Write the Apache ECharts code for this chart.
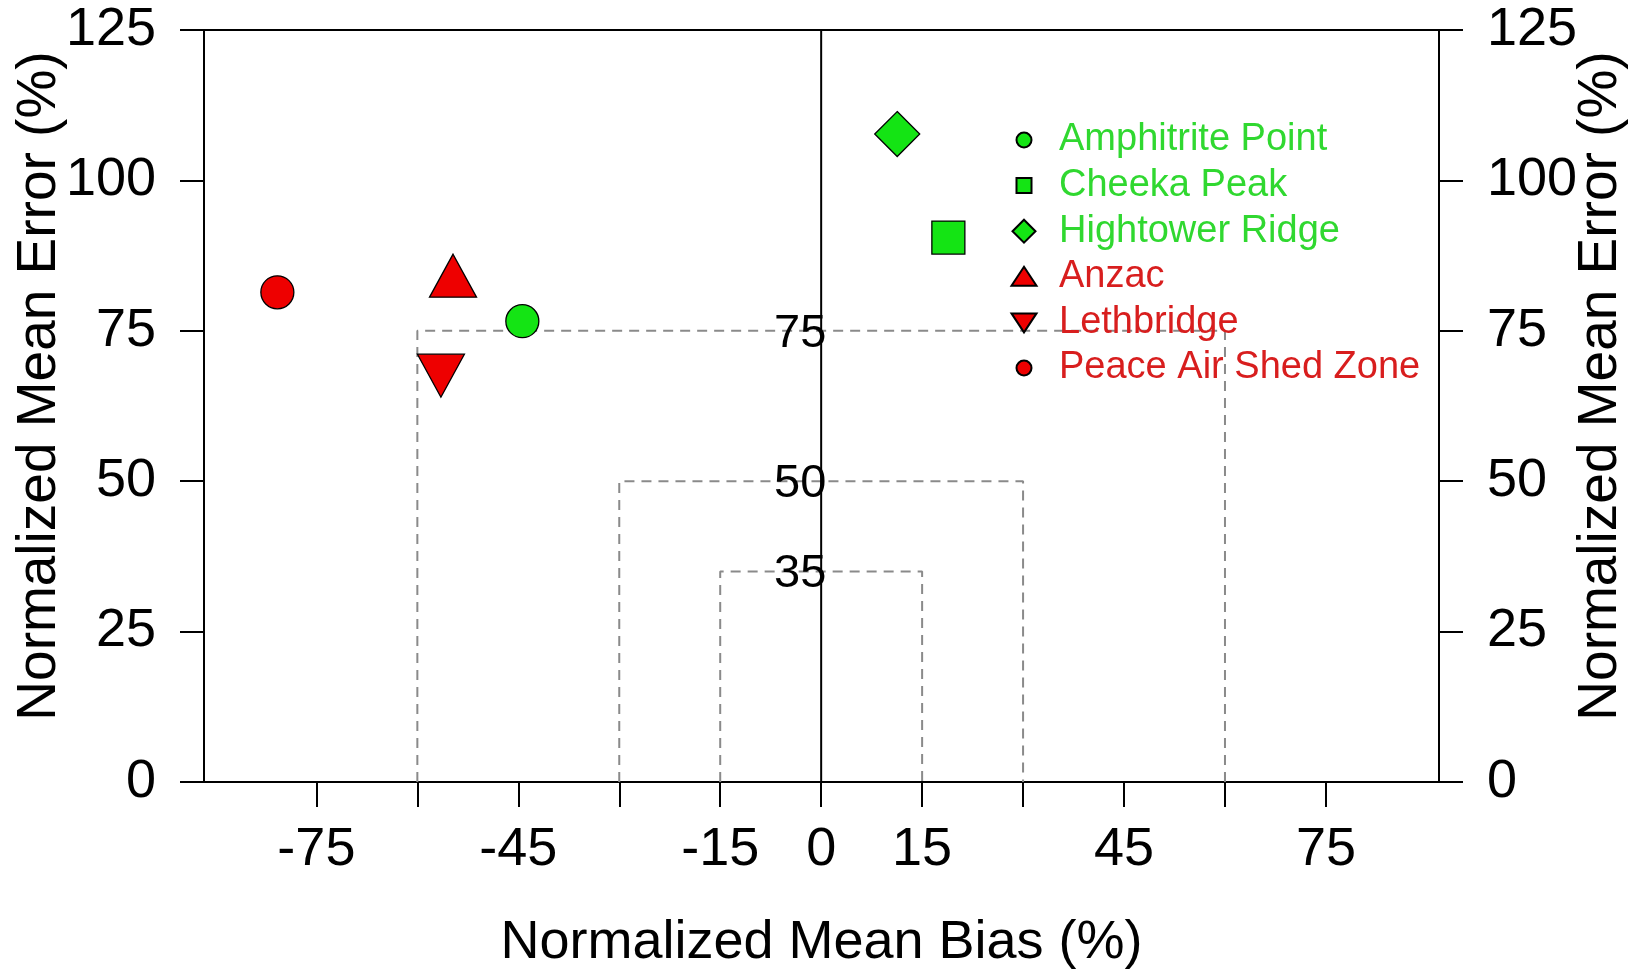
<!DOCTYPE html>
<html>
<head>
<meta charset="utf-8">
<title>Normalized Mean Bias vs Normalized Mean Error</title>
<script src="https://cdn.jsdelivr.net/npm/echarts@6/dist/echarts.min.js"></script>
<style>
html, body { margin: 0; padding: 0; background: #fff; }
#chart { width: 1633px; height: 970px; }
</style>
</head>
<body>
<div id="chart"></div>
<script>
// sites and their scores
var sites = ['Amphitrite Point', 'Cheeka Peak', 'Hightower Ridge', 'Anzac', 'Lethbridge', 'Peace Air Shed Zone'];
var nmb = [-44.4, 18.9, 11.3, -54.7, -56.5, -80.8];
var nme = [76.6, 90.5, 107.7, 83.0, 68.7, 81.4];
var siteGroup = ['coast', 'coast', 'coast', 'inland', 'inland', 'inland'];

// goal / criteria boxes
var thresholds = [75, 50, 35];
var thresholdHalfWidth = [60, 30, 15];

// axis ticks
var xTicks = [-75, -60, -45, -30, -15, 0, 15, 30, 45, 60, 75];
var xLabels = [-75, -45, -15, 0, 15, 45, 75];

var FONT = '"Liberation Sans", Arial, sans-serif';
var groupColor = { coast: '#14e414', inland: '#ee0000' };
var groupText = { coast: '#30d830', inland: '#d81e1e' };

// marker shapes (chart) and legend icons (small, padded inside a 26x26 box)
var markerSymbol = ['circle', 'rect', 'diamond', 'triangle', 'path://M-1,-1L1,-1L0,1Z', 'circle'];
var markerSize = [33, 33, 45, [47, 43], [47, 43], 33];
var markerOffset = [[0, 0], [0, 0], [0, 0], [0, -7], [0, 7], [0, 0]];
var legendIcon = [
	'path://M-13,-13M13,13M7.5,0A7.5,7.5,0,1,1,-7.5,0A7.5,7.5,0,1,1,7.5,0Z',
	'path://M-13,-13M13,13M-7.5,-7.5L7.5,-7.5L7.5,7.5L-7.5,7.5Z',
	'path://M-13,-13M13,13M0,-11.5L11.5,0L0,11.5L-11.5,0Z',
	'path://M-13,-13M13,13M0,-10L12.5,9L-12.5,9Z',
	'path://M-13,-13M13,13M-12.5,-9L12.5,-9L0,10Z',
	'path://M-13,-13M13,13M7.5,0A7.5,7.5,0,1,1,-7.5,0A7.5,7.5,0,1,1,7.5,0Z'
];

var myChart = echarts.init(document.getElementById('chart'));

var series = [];

// dashed criteria boxes
for (var i = 0; i < thresholds.length; i++) {
	var h = thresholdHalfWidth[i];
	var t = thresholds[i];
	series.push({
		name: 'box' + t,
		type: 'line',
		silent: true,
		symbol: 'none',
		z: 1,
		lineStyle: { color: '#8a8a8a', width: 2, type: [10, 7] },
		data: [[-h, 0], [-h, t], [h, t], [h, 0]]
	});
}

// zero bias line
series.push({
	name: 'zero',
	type: 'line',
	silent: true,
	symbol: 'none',
	z: 1,
	lineStyle: { color: '#000', width: 2 },
	data: [[0, 0], [0, 125]]
});

// box labels
series.push({
	name: 'boxLabels',
	type: 'scatter',
	silent: true,
	symbolSize: 0,
	z: 2,
	itemStyle: { color: 'rgba(0,0,0,0)', opacity: 1 },
	label: {
		show: true,
		position: 'inside',
		offset: [-21, 3],
		color: '#000',
		fontSize: 47,
		fontFamily: FONT,
		formatter: function (p) { return p.value[1]; }
	},
	data: thresholds.map(function (t) { return [0, t]; })
});

// one scatter series per site
var legendData = [];
for (var k = 0; k < sites.length; k++) {
	series.push({
		name: sites[k],
		type: 'scatter',
		z: 5,
		symbol: markerSymbol[k],
		symbolSize: markerSize[k],
		symbolOffset: markerOffset[k],
		itemStyle: {
			color: groupColor[siteGroup[k]],
			borderColor: '#000',
			borderWidth: 1.3,
			opacity: 1
		},
		data: [[nmb[k], nme[k]]]
	});
	legendData.push({
		name: sites[k],
		icon: legendIcon[k],
		textStyle: { color: groupText[siteGroup[k]] }
	});
}

var yAxisCommon = {
	type: 'value',
	min: 0,
	max: 125,
	interval: 25,
	name: 'Normalized Mean Error (%)',
	nameLocation: 'middle',
	nameRotate: 90,
	nameMoveOverlap: false,
	nameTextStyle: { color: '#000', fontSize: 55, fontFamily: FONT, padding: [0, 0, 0, 40] },
	splitLine: { show: false },
	axisLine: { show: true, onZero: false, lineStyle: { color: '#000', width: 2 } },
	axisTick: { show: true, length: 24, lineStyle: { color: '#000', width: 2 } },
	axisLabel: { color: '#000', fontSize: 54, fontFamily: FONT, margin: 48 }
};

var option = {
	backgroundColor: '#fff',
	animation: false,
	grid: {
		left: 204,
		top: 30,
		width: 1235,
		height: 752,
		containLabel: false,
		outerBoundsMode: 'none',
		show: true,
		borderColor: '#000',
		borderWidth: 2,
		backgroundColor: 'transparent'
	},
	legend: {
		orient: 'vertical',
		left: 1005,
		top: 116,
		itemWidth: 26,
		itemHeight: 26,
		itemGap: 7.6,
		selectedMode: false,
		textStyle: { fontSize: 38, fontFamily: FONT, padding: [0, 0, 0, 17] },
		data: legendData
	},
	xAxis: {
		type: 'value',
		min: -91.7,
		max: 91.8,
		name: 'Normalized Mean Bias (%)',
		nameLocation: 'middle',
		nameGap: 134,
		nameMoveOverlap: false,
		nameTextStyle: { color: '#000', fontSize: 54, fontFamily: FONT },
		splitLine: { show: false },
		axisLine: { show: true, onZero: false, lineStyle: { color: '#000', width: 2 } },
		axisTick: { show: true, length: 25, customValues: xTicks, lineStyle: { color: '#000', width: 2 } },
		axisLabel: { color: '#000', fontSize: 54, fontFamily: FONT, margin: 41, customValues: xLabels }
	},
	yAxis: [
		Object.assign({}, yAxisCommon, { position: 'left', nameGap: 137 }),
		Object.assign({}, yAxisCommon, { position: 'right', nameGap: 134 })
	],
	series: series
};

myChart.setOption(option);
</script>
</body>
</html>
